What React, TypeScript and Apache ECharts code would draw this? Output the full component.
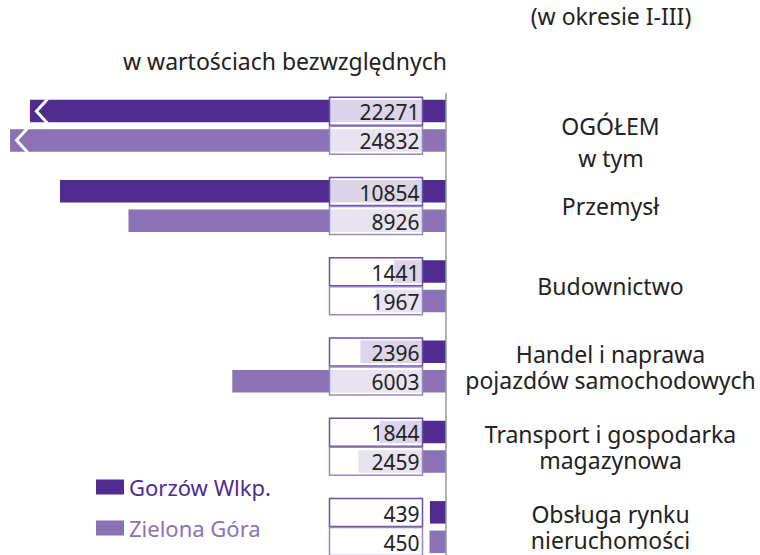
import React, { useEffect, useRef } from "react";
import * as echarts from "echarts";

const categories = [
  "OGÓŁEM",
  "Przemysł",
  "Budownictwo",
  "Handel i naprawa\npojazdów samochodowych",
  "Transport i gospodarka\nmagazynowa",
  "Obsługa rynku\nnieruchomości",
];
const seriesNames = ["Gorzów Wlkp.", "Zielona Góra"];
const gorzow = [22271, 10854, 1441, 2396, 1844, 439];
const zielona = [24832, 8926, 1967, 6003, 2459, 450];
// drawn (broken) length of the OGÓŁEM bars
const ogolemDrawn = [11700, 12260];
const subtitle = "w wartościach bezwzględnych";
const period = "(w okresie I-III)";
const ogolemNote = "w tym";

const X_MAX = 12543;
const DARK = "#4f2c90";
const LIGHT = "#8a72b4";
const DARK_BORDER = "#6a4fa6";
const LIGHT_BORDER = "#9a86c2";
const FONT = "Noto Sans";
const OFF = 14.5;

export default function App() {
  const ref = useRef<HTMLDivElement>(null);
  useEffect(() => {
    if (!ref.current) return;
    const chart = echarts.init(ref.current, null, { renderer: "svg" });
    const series = [gorzow, zielona];
    const boxData: number[][] = [];
    series.forEach((arr, s) => arr.forEach((v, i) => boxData.push([i, v, s])));
    const breakData = ogolemDrawn.map((v, s) => [0, v, s]);

    chart.setOption({
      animation: false,
      textStyle: { fontFamily: FONT },
      grid: { left: 0, right: 314.5, top: 85.7, height: 481.5, containLabel: false, outerBoundsMode: "none" },
      xAxis: { type: "value", inverse: true, min: 0, max: X_MAX, show: false },
      yAxis: {
        type: "category",
        data: categories,
        inverse: true,
        position: "right",
        axisLine: { show: false },
        axisTick: { show: false },
        splitLine: { show: false },
        axisLabel: {
          align: "center",
          margin: 165,
          fontSize: 23,
          lineHeight: 26,
          color: "#222",
          fontFamily: FONT,
        },
      },
      legend: {
        orient: "vertical",
        left: 91,
        top: 471,
        itemWidth: 28,
        itemHeight: 15,
        itemGap: 19,
        icon: "rect",
        textStyle: { fontSize: 22, fontFamily: FONT },
        data: [
          { name: seriesNames[0], textStyle: { color: DARK } },
          { name: seriesNames[1], textStyle: { color: LIGHT } },
        ],
      },
      series: [
        {
          type: "bar",
          name: seriesNames[0],
          data: gorzow.map((v, i) => (i === 0 ? ogolemDrawn[0] : v)),
          barWidth: 22.5,
          barGap: "31%",
          itemStyle: { color: DARK },
        },
        {
          type: "bar",
          name: seriesNames[1],
          data: zielona.map((v, i) => (i === 0 ? ogolemDrawn[1] : v)),
          barWidth: 22.5,
          barGap: "31%",
          itemStyle: { color: LIGHT },
        },
        {
          type: "custom",
          name: "break",
          data: breakData,
          encode: { x: 1, y: 0 },
          z: 4,
          renderItem: (params: any, api: any) => {
            const p = api.coord([api.value(1), api.value(0)]);
            const s = api.value(2);
            const yc = p[1] + (s === 0 ? -OFF : OFF);
            return {
              type: "polyline",
              shape: {
                points: [
                  [p[0] + 17.5, yc - 12],
                  [p[0] + 6.5, yc],
                  [p[0] + 17.5, yc + 12],
                ],
              },
              style: { stroke: "#fff", lineWidth: 3, fill: "none" },
            };
          },
        },
        {
          type: "custom",
          name: "values",
          data: boxData,
          encode: { x: 1, y: 0 },
          z: 5,
          renderItem: (params: any, api: any) => {
            const cat = api.value(0);
            const v = api.value(1);
            const s = api.value(2);
            const p = api.coord([0, cat]);
            const yc = p[1] + (s === 0 ? -OFF : OFF);
            return {
              type: "group",
              children: [
                {
                  type: "rect",
                  shape: { x: p[0] - 116, y: yc - 14, width: 93, height: 28 },
                  style: {
                    fill: "rgba(255,255,255,0.8)",
                    stroke: s === 0 ? DARK_BORDER : LIGHT_BORDER,
                    lineWidth: 1.5,
                  },
                },
                {
                  type: "text",
                  x: p[0] - 26,
                  y: yc + 1,
                  style: {
                    text: String(v),
                    align: "right",
                    verticalAlign: "middle",
                    fontSize: 21,
                    fontFamily: FONT,
                    fill: "#222",
                  },
                },
              ],
            };
          },
        },
      ],
      graphic: [
        {
          type: "line",
          shape: { x1: 446, y1: 93, x2: 446, y2: 555 },
          style: { stroke: "#666", lineWidth: 1 },
          z: 10,
        },
        {
          type: "text",
          x: 285,
          y: 61,
          style: { text: subtitle, align: "center", verticalAlign: "middle", fontSize: 23, fontFamily: FONT, fill: "#222" },
        },
        {
          type: "text",
          x: 611,
          y: 16,
          style: { text: period, align: "center", verticalAlign: "middle", fontSize: 23, fontFamily: FONT, fill: "#222" },
        },
        {
          type: "text",
          x: 611,
          y: 158,
          style: { text: ogolemNote, align: "center", verticalAlign: "middle", fontSize: 23, fontFamily: FONT, fill: "#222" },
        },
      ],
    });
    return () => chart.dispose();
  }, []);
  return (
    <div
      ref={ref}
      style={{ position: "absolute", left: 0, top: 0, width: 760, height: 555 }}
    />
  );
}
